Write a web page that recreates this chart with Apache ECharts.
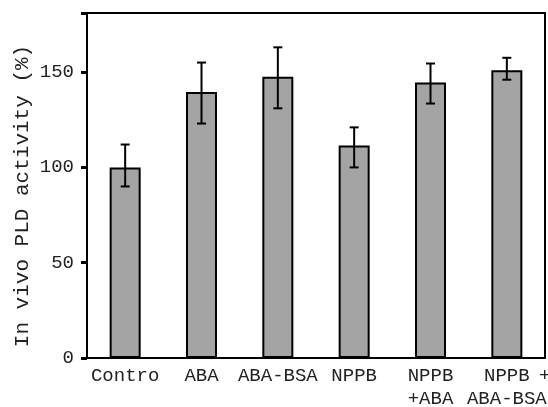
<!DOCTYPE html>
<html>
<head>
<meta charset="utf-8">
<script src="https://cdn.jsdelivr.net/npm/echarts@6/dist/echarts.min.js"></script>
<style>html,body{margin:0;padding:0;background:#fff;}#c{width:548px;height:407px;}</style>
</head>
<body>
<div id="c"></div>
<script>
var categories = ['Contro', 'ABA', 'ABA-BSA', 'NPPB', 'NPPB\n+ABA', 'NPPB\nABA-BSA'];
var values = [100, 139.5, 147.5, 111.5, 144.5, 151];
var errLow = [90, 123, 131, 100, 133.5, 146];
var errHigh = [112, 155, 163, 121, 154.5, 157.5];
var yTicks = [0, 50, 100, 150];
var yName = 'In vivo PLD activity (%)';

var font = '"Liberation Mono", "DejaVu Sans Mono", monospace';
var chart = echarts.init(document.getElementById('c'));
chart.setOption({
  animation: false,
  backgroundColor: '#fff',
  grid: { left: 87, right: 3, top: 13, bottom: 49, show: true, borderColor: '#000', borderWidth: 2,
          containLabel: false, outerBoundsMode: 'none' },
  xAxis: {
    type: 'category',
    data: categories,
    axisLine: { lineStyle: { color: '#000', width: 2 } },
    axisTick: { show: false },
    axisLabel: { color: '#222', fontFamily: font, fontSize: 19, margin: 6, lineHeight: 23, interval: 0 }
  },
  yAxis: {
    type: 'value',
    min: 0, max: 181, interval: 50,
    splitLine: { show: false },
    axisLine: { show: true, lineStyle: { color: '#000', width: 2 } },
    axisTick: { show: true, length: 6, lineStyle: { color: '#000', width: 3 } },
    axisLabel: { color: '#222', fontFamily: font, fontSize: 19, margin: 13,
      formatter: function (v) { return yTicks.indexOf(v) >= 0 ? String(v) : ''; } }
  },
  series: [
    {
      type: 'bar',
      data: values,
      barWidth: 31,
      itemStyle: { color: '#a4a4a4', borderColor: '#000', borderWidth: 2 }
    },
    {
      type: 'custom',
      data: categories.map(function (c, i) { return [i, errLow[i], errHigh[i]]; }),
      renderItem: function (params, api) {
        var x = api.value(0);
        var lo = api.coord([x, api.value(1)]);
        var hi = api.coord([x, api.value(2)]);
        var hw = 4.5;
        var st = { stroke: '#000', lineWidth: 2 };
        return { type: 'group', children: [
          { type: 'line', shape: { x1: lo[0], y1: lo[1], x2: hi[0], y2: hi[1] }, style: st },
          { type: 'line', shape: { x1: lo[0] - hw, y1: lo[1], x2: lo[0] + hw, y2: lo[1] }, style: st },
          { type: 'line', shape: { x1: hi[0] - hw, y1: hi[1], x2: hi[0] + hw, y2: hi[1] }, style: st }
        ] };
      },
      z: 5
    }
  ],
  graphic: [
    { type: 'text', x: 22, y: 196, rotation: Math.PI / 2,
      style: { text: yName, font: '21px ' + font, fill: '#222', align: 'center', verticalAlign: 'middle' } },
    { type: 'text', left: 539, top: 366, style: { text: '+', font: '19px ' + font, fill: '#222' } }
  ]
});
</script>
</body>
</html>
